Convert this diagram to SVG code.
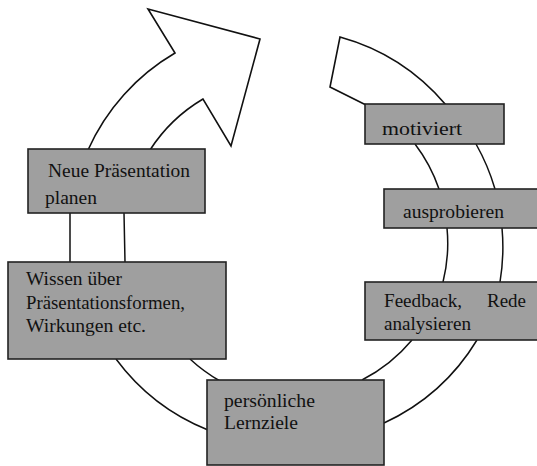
<svg xmlns="http://www.w3.org/2000/svg" width="537" height="466" viewBox="0 0 537 466">
<style>
.ring{fill:none;stroke:#111;stroke-width:1.5}
.arrow{fill:#fff;stroke:#111;stroke-width:1.6;stroke-linejoin:miter}
.box{fill:#9f9f9f;stroke:#222;stroke-width:1.6}
text{font-family:"Liberation Serif","Times New Roman",serif;font-size:18.5px;fill:#111}
</style>
<rect width="537" height="466" fill="#fff"/>
<g id="connectors">
<path class="arrow" d="M88,150 A213,213 0 0 1 175,53 L148,9 L260,39 L231,146 L203,99 A160,160 0 0 0 150,150"/>
<path class="arrow" d="M366,105 L330,87 L340,37 A213,213 0 0 1 446,105"/>
<path class="ring" d="M70,213 L70,262 M124,213 L125,262"/>
<path class="ring" d="M116,359 A213,213 0 0 0 208,430 M190,359 A160,160 0 0 0 220,381"/>
<path class="ring" d="M384,423 A213,213 0 0 0 477,340 M362,380 A160,160 0 0 0 412,340"/>
<path class="ring" d="M447,228 A160,160 0 0 1 443,282 M502,228 A213,213 0 0 1 500,282"/>
<path class="ring" d="M415,144 A160,160 0 0 1 439,189 M476,144 A213,213 0 0 1 495,189"/>
</g>
<g id="n-neue">
<rect class="box" x="28" y="149" width="177" height="64"/>
<text x="48" y="177" textLength="142" lengthAdjust="spacingAndGlyphs">Neue Präsentation</text>
<text x="45" y="204" textLength="52" lengthAdjust="spacingAndGlyphs">planen</text>
</g>
<g id="n-motiviert">
<rect class="box" x="365" y="104" width="139" height="40"/>
<text x="382" y="135" textLength="80" lengthAdjust="spacingAndGlyphs">motiviert</text>
</g>
<g id="n-ausprobieren">
<rect class="box" x="384" y="189" width="160" height="39"/>
<text x="403" y="218" textLength="101" lengthAdjust="spacingAndGlyphs">ausprobieren</text>
</g>
<g id="n-wissen">
<rect class="box" x="8" y="262" width="218" height="97"/>
<text x="26" y="285" textLength="96" lengthAdjust="spacingAndGlyphs">Wissen über</text>
<text x="26" y="309" textLength="159" lengthAdjust="spacingAndGlyphs">Präsentationsformen,</text>
<text x="26" y="332" textLength="120" lengthAdjust="spacingAndGlyphs">Wirkungen etc.</text>
</g>
<g id="n-feedback">
<rect class="box" x="365" y="282" width="180" height="58"/>
<text x="384" y="307" textLength="78" lengthAdjust="spacingAndGlyphs">Feedback,</text>
<text x="487" y="307" textLength="39" lengthAdjust="spacingAndGlyphs">Rede</text>
<text x="384" y="330" textLength="87" lengthAdjust="spacingAndGlyphs">analysieren</text>
</g>
<g id="n-lernziele">
<rect class="box" x="207" y="380" width="177" height="85"/>
<text x="224" y="407" textLength="91" lengthAdjust="spacingAndGlyphs">persönliche</text>
<text x="224" y="429" textLength="74" lengthAdjust="spacingAndGlyphs">Lernziele</text>
</g>
</svg>
